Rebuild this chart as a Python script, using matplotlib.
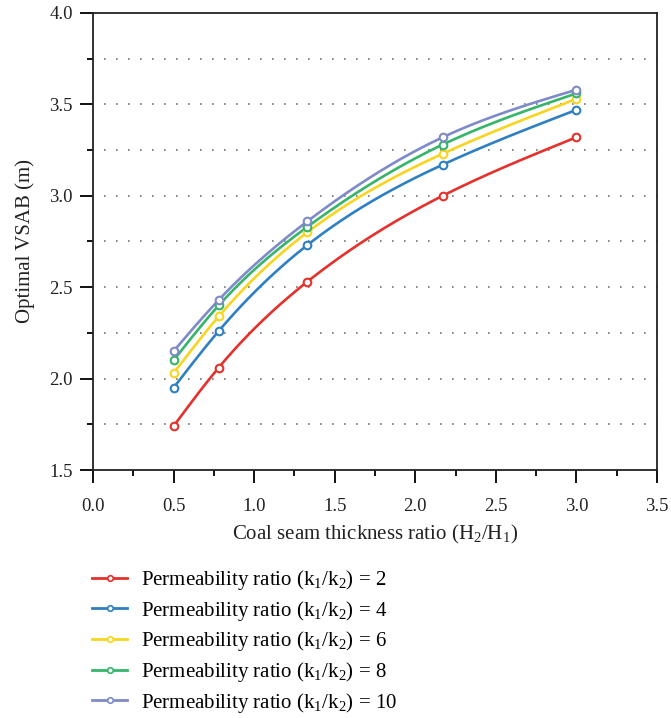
import numpy as np
import matplotlib
matplotlib.use("Agg")
import matplotlib.pyplot as plt
from matplotlib.ticker import MultipleLocator, FormatStrFormatter

plt.rcParams['font.family'] = ['Liberation Serif', 'DejaVu Serif']
plt.rcParams['mathtext.fontset'] = 'custom'
plt.rcParams['mathtext.rm'] = 'Liberation Serif'
plt.rcParams['mathtext.it'] = 'Liberation Serif:italic'

# Coal seam thickness ratio H2/H1
thickness_ratio = [0.5, 0.78, 1.33, 2.17, 3.0]

# Optimal VSAB (m) for each permeability ratio k1/k2
permeability_ratios = [2, 4, 6, 8, 10]
vsab_k2 = [1.74, 2.06, 2.53, 3.00, 3.32]
vsab_k4 = [1.95, 2.26, 2.73, 3.17, 3.47]
vsab_k6 = [2.03, 2.34, 2.80, 3.23, 3.53]
vsab_k8 = [2.10, 2.40, 2.83, 3.28, 3.56]
vsab_k10 = [2.15, 2.43, 2.86, 3.32, 3.58]
series = [vsab_k2, vsab_k4, vsab_k6, vsab_k8, vsab_k10]
colors = ['#e5312b', '#2e80c3', '#f8d51e', '#35b56a', '#7f8ac8']


def natural_spline(x, y, n=200):
    """Natural cubic spline through the given points."""
    x = np.asarray(x, float)
    y = np.asarray(y, float)
    m = len(x)
    h = np.diff(x)
    A = np.zeros((m, m))
    b = np.zeros(m)
    A[0, 0] = A[-1, -1] = 1.0
    for i in range(1, m - 1):
        A[i, i - 1] = h[i - 1]
        A[i, i] = 2 * (h[i - 1] + h[i])
        A[i, i + 1] = h[i]
        b[i] = 6 * ((y[i + 1] - y[i]) / h[i] - (y[i] - y[i - 1]) / h[i - 1])
    M = np.linalg.solve(A, b)
    xs = np.linspace(x[0], x[-1], n)
    idx = np.clip(np.searchsorted(x, xs) - 1, 0, m - 2)
    x0, x1 = x[idx], x[idx + 1]
    hh = x1 - x0
    t0 = x1 - xs
    t1 = xs - x0
    ys = (M[idx] * t0 ** 3 + M[idx + 1] * t1 ** 3) / (6 * hh) \
        + (y[idx] / hh - M[idx] * hh / 6) * t0 \
        + (y[idx + 1] / hh - M[idx + 1] * hh / 6) * t1
    return xs, ys


fig = plt.figure(figsize=(6.71, 7.18), dpi=100)
ax = fig.add_axes([0.1386, 0.3454, 0.8404, 0.6365])

for k, vals, c in zip(permeability_ratios, series, colors):
    xs, ys = natural_spline(thickness_ratio, vals)
    ax.plot(xs, ys, color=c, lw=1.9, zorder=3)
    ax.plot(thickness_ratio, vals, linestyle='none', marker='o', ms=5.5,
            mfc='white', mec=c, mew=1.5, zorder=4)
    ax.plot([], [], color=c, lw=2.0, marker='o', ms=4, mfc='white', mec=c,
            mew=1.2, label=r'Permeability ratio (k$_1$/k$_2$) = %d' % k)

ax.set_xlim(0, 3.5)
ax.set_ylim(1.5, 4.0)
ax.xaxis.set_major_locator(MultipleLocator(0.5))
ax.xaxis.set_minor_locator(MultipleLocator(0.25))
ax.yaxis.set_major_locator(MultipleLocator(0.5))
ax.yaxis.set_minor_locator(MultipleLocator(0.25))
ax.xaxis.set_major_formatter(FormatStrFormatter('%.1f'))
ax.yaxis.set_major_formatter(FormatStrFormatter('%.1f'))
ax.tick_params(which='major', direction='out', length=9.5, width=1.4,
               labelsize=13.5, color='#111111', labelcolor='#222222')
ax.tick_params(which='minor', direction='out', length=4.5, width=1.4,
               color='#111111')
ax.tick_params(axis='x', which='major', pad=10.5)
ax.tick_params(axis='y', which='major', pad=5)
for sp in ax.spines.values():
    sp.set_linewidth(1.3)
    sp.set_color('#222222')

for gy in np.arange(1.75, 3.76, 0.25):
    ax.plot([0.068, 3.5], [gy, gy], color='#777777', lw=1.2,
            linestyle=(0, (1, 6.2)), zorder=1)

ax.set_xlabel(r'Coal seam thickness ratio (H$_2$/H$_1$)', fontsize=15,
              labelpad=6, color='#222222')
ax.set_ylabel('Optimal VSAB (m)', fontsize=15, labelpad=10, color='#222222')

fig.legend(loc='upper left', bbox_to_anchor=(0.1248, 0.2206), frameon=False,
           fontsize=15, handlelength=1.68, handletextpad=0.67,
           labelspacing=0.32, borderaxespad=0)

fig.savefig('out.png', dpi=100)
